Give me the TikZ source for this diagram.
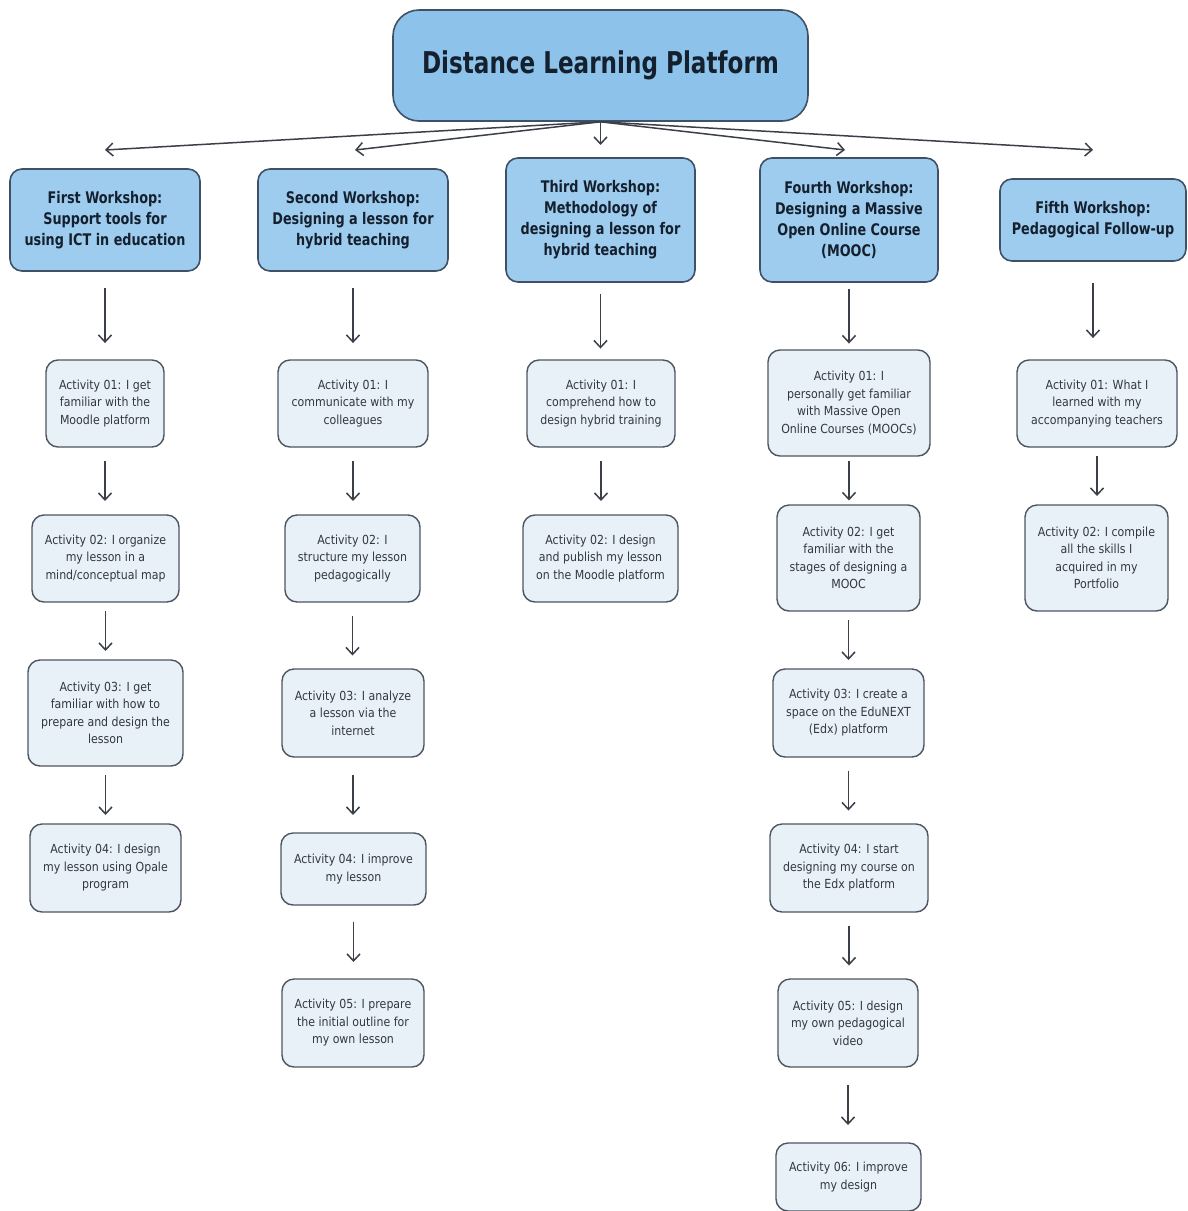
\documentclass[tikz,border=0pt]{standalone}
\usepackage{fontspec}
\setmainfont{DejaVu Sans}
\newfontfamily\titlefont{DejaVu Sans}[FakeStretch=0.77]
\newfontfamily\shopfont{DejaVu Sans}[FakeStretch=0.80]
\newfontfamily\actfont{DejaVu Sans}[FakeStretch=0.88]
\usetikzlibrary{arrows.meta,calc}
\definecolor{rootblue}{HTML}{8DC2EA}
\definecolor{shopblue}{HTML}{9ECCEF}
\definecolor{actblue}{HTML}{E8F0F8}
\definecolor{edge}{HTML}{3E5166}
\definecolor{actedge}{HTML}{4E5560}
\definecolor{arrowc}{HTML}{3A3F48}
\definecolor{ink}{HTML}{15202E}
\definecolor{acttext}{HTML}{333840}
\tikzset{x=1pt, y=-1pt}

\begin{document}
\begin{tikzpicture}[
  root/.style={draw=edge, fill=rootblue, line width=1.6pt, rounded corners=26pt,
    text=ink, font=\titlefont\bfseries\fontsize{30}{34}\selectfont},
  shop/.style={draw=edge, fill=shopblue, line width=1.6pt, rounded corners=12pt,
    align=center, text=ink, font=\shopfont\bfseries\fontsize{16}{21}\selectfont},
  act/.style={draw=actedge, fill=actblue, line width=1.4pt, rounded corners=12pt,
    align=center, text=acttext, font=\actfont\fontsize{12.5}{17.5}\selectfont},
  arr/.style={-{Straight Barb[length=7pt,width=13pt]}, draw=arrowc, line width=1.5pt}
]
\useasboundingbox (0,0) rectangle (1187,1211);

% platform and workshops
\node[root, minimum width=415, minimum height=111] (root) at (600.5,65.5) {Distance Learning Platform};
\node[shop, minimum width=190, minimum height=102] (w1) at (105,220) {First Workshop:\\Support tools for\\using ICT in education};
\node[shop, minimum width=190, minimum height=102] (w2) at (353,220) {Second Workshop:\\Designing a lesson for\\hybrid teaching};
\node[shop, minimum width=189, minimum height=124] (w3) at (600.5,220) {Third Workshop:\\Methodology of\\designing a lesson for\\hybrid teaching};
\node[shop, minimum width=178, minimum height=124] (w4) at (849,220) {Fourth Workshop:\\Designing a Massive\\Open Online Course\\(MOOC)};
\node[shop, minimum width=186, minimum height=82] (w5) at (1093,220) {Fifth Workshop:\\Pedagogical Follow-up};

% arrow tips above the workshops
\coordinate (t1) at (105,150);
\coordinate (t2) at (355,150);
\coordinate (t3) at (600.5,145);
\coordinate (t4) at (845,150);
\coordinate (t5) at (1093,150);
\foreach \t in {1,...,5}
\draw[arr] (root.south) -- (t\t);

% first workshop
\node[act, minimum width=118, minimum height=87] (a11) at (105,403.5) {Activity 01: I get\\familiar with the\\Moodle platform};
\node[act, minimum width=147, minimum height=87] (a12) at (105.5,558.5) {Activity 02: I organize\\my lesson in a\\mind/conceptual map};
\node[act, minimum width=155, minimum height=106] (a13) at (105.5,713) {Activity 03: I get\\familiar with how to\\prepare and design the\\lesson};
\node[act, minimum width=151, minimum height=88] (a14) at (105.5,868) {Activity 04: I design\\my lesson using Opale\\program};

% second workshop
\node[act, minimum width=150, minimum height=87] (a21) at (353,403.5) {Activity 01: I\\communicate with my\\colleagues};
\node[act, minimum width=135, minimum height=87] (a22) at (352.5,558.5) {Activity 02: I\\structure my lesson\\pedagogically};
\node[act, minimum width=142, minimum height=88] (a23) at (353,713) {Activity 03: I analyze\\a lesson via the\\internet};
\node[act, minimum width=145, minimum height=72] (a24) at (353.5,869) {Activity 04: I improve\\my lesson};
\node[act, minimum width=142, minimum height=88] (a25) at (353,1023) {Activity 05: I prepare\\the initial outline for\\my own lesson};

% third workshop
\node[act, minimum width=148, minimum height=87] (a31) at (601,403.5) {Activity 01: I\\comprehend how to\\design hybrid training};
\node[act, minimum width=155, minimum height=87] (a32) at (600.5,558.5) {Activity 02: I design\\and publish my lesson\\on the Moodle platform};

% fourth workshop
\node[act, minimum width=162, minimum height=106] (a41) at (849,403) {Activity 01: I\\personally get familiar\\with Massive Open\\Online Courses (MOOCs)};
\node[act, minimum width=143, minimum height=106] (a42) at (848.5,558) {Activity 02: I get\\familiar with the\\stages of designing a\\MOOC};
\node[act, minimum width=151, minimum height=88] (a43) at (848.5,713) {Activity 03: I create a\\space on the EduNEXT\\(Edx) platform};
\node[act, minimum width=158, minimum height=88] (a44) at (849,868) {Activity 04: I start\\designing my course on\\the Edx platform};
\node[act, minimum width=140, minimum height=88] (a45) at (848,1023) {Activity 05: I design\\my own pedagogical\\video};
\node[act, minimum width=145, minimum height=68] (a46) at (848.5,1177) {Activity 06: I improve\\my design};

% fifth workshop
\node[act, minimum width=160, minimum height=87] (a51) at (1097,403.5) {Activity 01: What I\\learned with my\\accompanying teachers};
\node[act, minimum width=143, minimum height=106] (a52) at (1096.5,558) {Activity 02: I compile\\all the skills I\\acquired in my\\Portfolio};

% downward arrows, centred in the gaps
\foreach \a/\b in {w1/a11, w2/a21, w3/a31, w4/a41, w5/a51}
\draw[arr] ($(\a.south)!.5!(\a.south |- \b.north)+(0,-27.5)$) -- ($(\a.south)!.5!(\a.south |- \b.north)+(0,27.5)$);
\foreach \a/\b in {a11/a12, a12/a13, a13/a14,
  a21/a22, a22/a23, a23/a24, a24/a25, a31/a32,
  a41/a42, a42/a43, a43/a44, a44/a45, a45/a46, a51/a52}
\draw[arr] ($(\a.south)!.5!(\a.south |- \b.north)+(0,-20)$) -- ($(\a.south)!.5!(\a.south |- \b.north)+(0,20)$);
\end{tikzpicture}
\end{document}
